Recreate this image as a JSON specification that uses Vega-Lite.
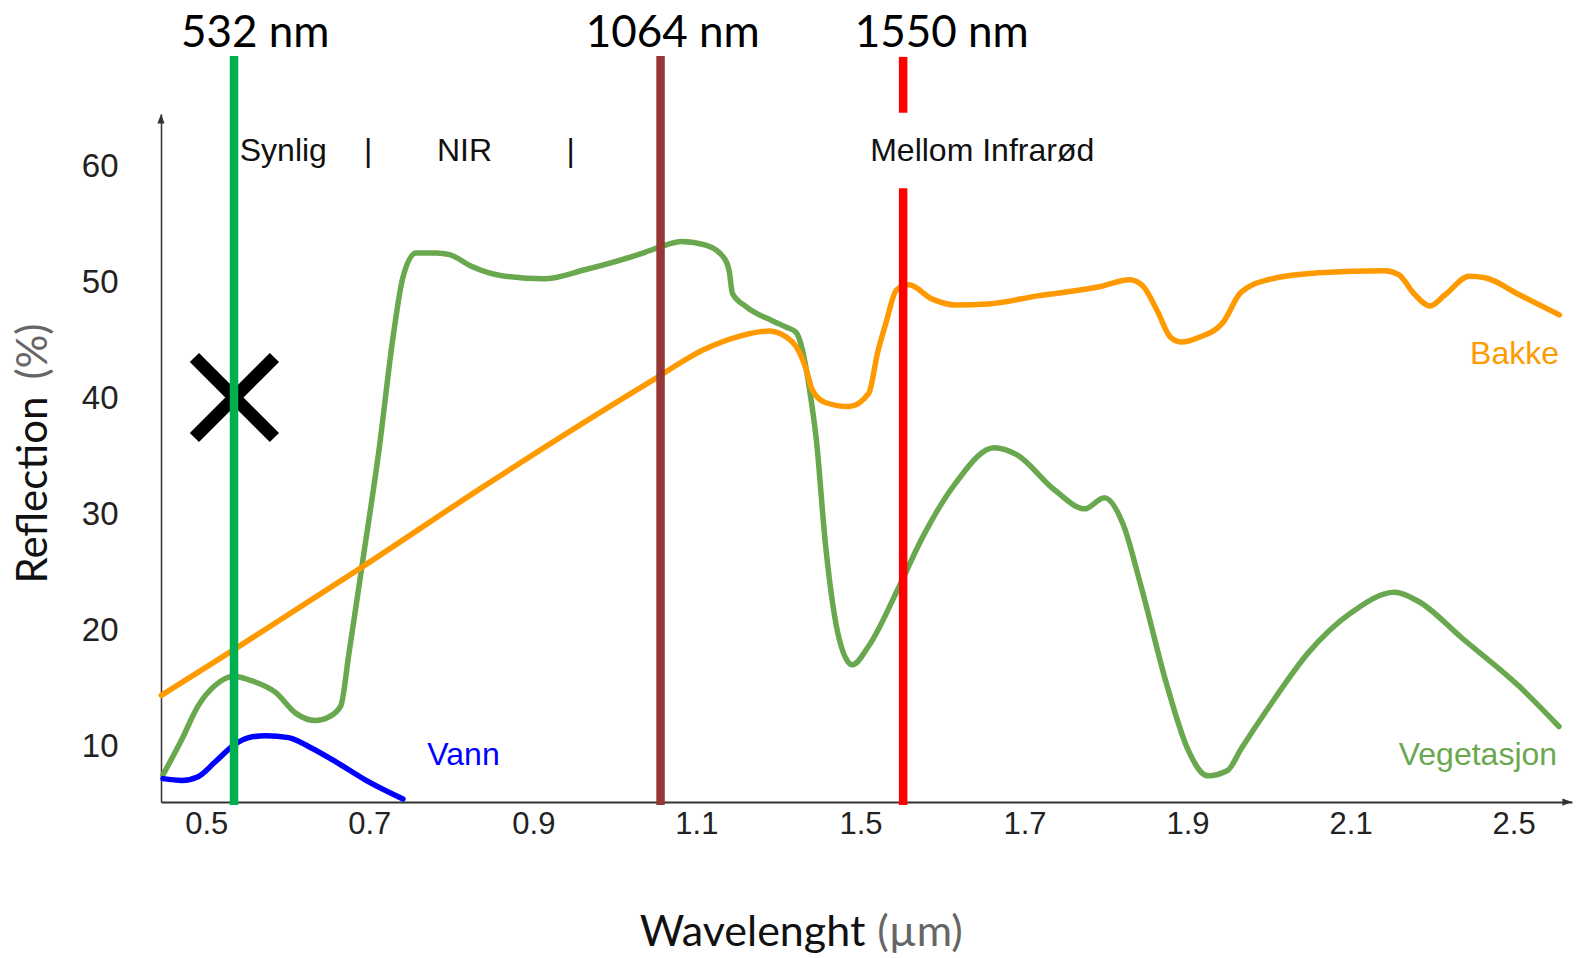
{
  "$schema": "https://vega.github.io/schema/vega-lite/v6.json",
  "autosize": "none",
  "width": 1411,
  "height": 688.1,
  "padding": {"left": 161, "top": 114, "right": 6, "bottom": 155.9},
  "background": "#ffffff",
  "config": {"view": {"stroke": null}},
  "datasets": {
    "curves": [
      {"series": "Vegetasjon", "x": 0.447, "y": 7.57},
      {"series": "Vegetasjon", "x": 0.470, "y": 10.62},
      {"series": "Vegetasjon", "x": 0.490, "y": 13.52},
      {"series": "Vegetasjon", "x": 0.511, "y": 15.29},
      {"series": "Vegetasjon", "x": 0.534, "y": 16.07},
      {"series": "Vegetasjon", "x": 0.552, "y": 15.76},
      {"series": "Vegetasjon", "x": 0.585, "y": 14.68},
      {"series": "Vegetasjon", "x": 0.610, "y": 12.87},
      {"series": "Vegetasjon", "x": 0.634, "y": 12.25},
      {"series": "Vegetasjon", "x": 0.650, "y": 12.55},
      {"series": "Vegetasjon", "x": 0.665, "y": 13.52},
      {"series": "Vegetasjon", "x": 0.675, "y": 18.01},
      {"series": "Vegetasjon", "x": 0.692, "y": 26.03},
      {"series": "Vegetasjon", "x": 0.712, "y": 35.65},
      {"series": "Vegetasjon", "x": 0.729, "y": 45.29},
      {"series": "Vegetasjon", "x": 0.741, "y": 50.42},
      {"series": "Vegetasjon", "x": 0.757, "y": 52.51},
      {"series": "Vegetasjon", "x": 0.782, "y": 52.51},
      {"series": "Vegetasjon", "x": 0.798, "y": 52.37},
      {"series": "Vegetasjon", "x": 0.823, "y": 51.42},
      {"series": "Vegetasjon", "x": 0.860, "y": 50.58},
      {"series": "Vegetasjon", "x": 0.913, "y": 50.29},
      {"series": "Vegetasjon", "x": 0.963, "y": 51.07},
      {"series": "Vegetasjon", "x": 1.036, "y": 52.55},
      {"series": "Vegetasjon", "x": 1.055, "y": 53.02},
      {"series": "Vegetasjon", "x": 1.082, "y": 53.50},
      {"series": "Vegetasjon", "x": 1.123, "y": 53.18},
      {"series": "Vegetasjon", "x": 1.168, "y": 52.06},
      {"series": "Vegetasjon", "x": 1.180, "y": 50.94},
      {"series": "Vegetasjon", "x": 1.188, "y": 49.02},
      {"series": "Vegetasjon", "x": 1.221, "y": 47.90},
      {"series": "Vegetasjon", "x": 1.286, "y": 46.66},
      {"series": "Vegetasjon", "x": 1.318, "y": 46.14},
      {"series": "Vegetasjon", "x": 1.343, "y": 45.67},
      {"series": "Vegetasjon", "x": 1.358, "y": 44.23},
      {"series": "Vegetasjon", "x": 1.376, "y": 40.71},
      {"series": "Vegetasjon", "x": 1.392, "y": 36.55},
      {"series": "Vegetasjon", "x": 1.415, "y": 27.28},
      {"series": "Vegetasjon", "x": 1.448, "y": 19.29},
      {"series": "Vegetasjon", "x": 1.480, "y": 17.05},
      {"series": "Vegetasjon", "x": 1.510, "y": 18.67},
      {"series": "Vegetasjon", "x": 1.547, "y": 23.78},
      {"series": "Vegetasjon", "x": 1.575, "y": 27.94},
      {"series": "Vegetasjon", "x": 1.616, "y": 32.70},
      {"series": "Vegetasjon", "x": 1.663, "y": 35.75},
      {"series": "Vegetasjon", "x": 1.691, "y": 35.13},
      {"series": "Vegetasjon", "x": 1.737, "y": 32.10},
      {"series": "Vegetasjon", "x": 1.774, "y": 30.48},
      {"series": "Vegetasjon", "x": 1.798, "y": 31.44},
      {"series": "Vegetasjon", "x": 1.821, "y": 29.15},
      {"series": "Vegetasjon", "x": 1.842, "y": 24.08},
      {"series": "Vegetasjon", "x": 1.875, "y": 15.23},
      {"series": "Vegetasjon", "x": 1.900, "y": 9.84},
      {"series": "Vegetasjon", "x": 1.925, "y": 7.49},
      {"series": "Vegetasjon", "x": 1.949, "y": 7.95},
      {"series": "Vegetasjon", "x": 1.966, "y": 9.84},
      {"series": "Vegetasjon", "x": 1.999, "y": 13.33},
      {"series": "Vegetasjon", "x": 2.048, "y": 18.08},
      {"series": "Vegetasjon", "x": 2.102, "y": 21.55},
      {"series": "Vegetasjon", "x": 2.208, "y": 23.29},
      {"series": "Vegetasjon", "x": 2.267, "y": 22.50},
      {"series": "Vegetasjon", "x": 2.373, "y": 19.36},
      {"series": "Vegetasjon", "x": 2.513, "y": 15.22},
      {"series": "Vegetasjon", "x": 2.611, "y": 11.74},
      {"series": "Bakke", "x": 0.445, "y": 14.42},
      {"series": "Bakke", "x": 0.533, "y": 18.32},
      {"series": "Bakke", "x": 0.692, "y": 25.51},
      {"series": "Bakke", "x": 0.840, "y": 32.44},
      {"series": "Bakke", "x": 1.044, "y": 41.46},
      {"series": "Bakke", "x": 1.120, "y": 44.23},
      {"series": "Bakke", "x": 1.206, "y": 45.36},
      {"series": "Bakke", "x": 1.277, "y": 45.79},
      {"series": "Bakke", "x": 1.334, "y": 44.84},
      {"series": "Bakke", "x": 1.366, "y": 42.67},
      {"series": "Bakke", "x": 1.383, "y": 40.68},
      {"series": "Bakke", "x": 1.414, "y": 39.64},
      {"series": "Bakke", "x": 1.472, "y": 39.29},
      {"series": "Bakke", "x": 1.510, "y": 40.42},
      {"series": "Bakke", "x": 1.521, "y": 43.97},
      {"series": "Bakke", "x": 1.531, "y": 46.48},
      {"series": "Bakke", "x": 1.544, "y": 49.34},
      {"series": "Bakke", "x": 1.559, "y": 49.77},
      {"series": "Bakke", "x": 1.587, "y": 48.56},
      {"series": "Bakke", "x": 1.616, "y": 48.04},
      {"series": "Bakke", "x": 1.656, "y": 48.13},
      {"series": "Bakke", "x": 1.716, "y": 48.82},
      {"series": "Bakke", "x": 1.792, "y": 49.60},
      {"series": "Bakke", "x": 1.829, "y": 50.21},
      {"series": "Bakke", "x": 1.845, "y": 49.69},
      {"series": "Bakke", "x": 1.863, "y": 47.52},
      {"series": "Bakke", "x": 1.879, "y": 45.27},
      {"series": "Bakke", "x": 1.893, "y": 44.84},
      {"series": "Bakke", "x": 1.915, "y": 45.27},
      {"series": "Bakke", "x": 1.944, "y": 46.57},
      {"series": "Bakke", "x": 1.965, "y": 49.08},
      {"series": "Bakke", "x": 1.999, "y": 50.21},
      {"series": "Bakke", "x": 2.061, "y": 50.81},
      {"series": "Bakke", "x": 2.184, "y": 50.99},
      {"series": "Bakke", "x": 2.218, "y": 50.64},
      {"series": "Bakke", "x": 2.258, "y": 48.91},
      {"series": "Bakke", "x": 2.295, "y": 47.95},
      {"series": "Bakke", "x": 2.332, "y": 48.91},
      {"series": "Bakke", "x": 2.391, "y": 50.51},
      {"series": "Bakke", "x": 2.430, "y": 50.38},
      {"series": "Bakke", "x": 2.514, "y": 48.91},
      {"series": "Bakke", "x": 2.612, "y": 47.18},
      {"series": "Vann", "x": 0.447, "y": 7.25},
      {"series": "Vann", "x": 0.470, "y": 7.10},
      {"series": "Vann", "x": 0.490, "y": 7.42},
      {"series": "Vann", "x": 0.511, "y": 8.70},
      {"series": "Vann", "x": 0.534, "y": 10.15},
      {"series": "Vann", "x": 0.552, "y": 10.78},
      {"series": "Vann", "x": 0.573, "y": 10.95},
      {"series": "Vann", "x": 0.601, "y": 10.78},
      {"series": "Vann", "x": 0.626, "y": 10.00},
      {"series": "Vann", "x": 0.659, "y": 8.70},
      {"series": "Vann", "x": 0.696, "y": 7.10},
      {"series": "Vann", "x": 0.741, "y": 5.50}
    ],
    "rules": [
      {"series": "532 nm", "x": 0.534, "y": 69.47, "y2": 4.98},
      {"series": "1064 nm", "x": 1.056, "y": 69.47, "y2": 4.98},
      {"series": "1550 nm", "x": 1.552, "y": 69.4, "y2": 64.59},
      {"series": "1550 nm", "x": 1.552, "y": 58.08, "y2": 4.98}
    ],
    "laserLabels": [
      {"label": "532 nm", "x": 0.56, "y": 70.25},
      {"label": "1064 nm", "x": 1.071, "y": 70.25},
      {"label": "1550 nm", "x": 1.599, "y": 70.25}
    ],
    "regions": [
      {"label": "Synlig", "x": 0.5945, "y": 60.43},
      {"label": "|", "x": 0.6985, "y": 60.43},
      {"label": "NIR", "x": 0.816, "y": 60.43},
      {"label": "|", "x": 0.9456, "y": 60.43},
      {"label": "Mellom Infrarød", "x": 1.6484, "y": 60.43}
    ],
    "seriesLabels": [
      {"series": "Bakke", "label": "Bakke", "x": 2.5024, "y": 42.93},
      {"series": "Vegetasjon", "label": "Vegetasjon", "x": 2.4124, "y": 8.43},
      {"series": "Vann", "label": "Vann", "x": 0.8148, "y": 8.43}
    ]
  },
  "encoding": {
    "x": {
      "field": "x",
      "type": "quantitative",
      "scale": {
        "domain": [0.4446, 0.5, 0.7, 0.9, 1.1, 1.5, 1.7, 1.9, 2.1, 2.5, 2.643],
        "range": [0, 45.3, 208.3, 372.4, 535.4, 699.5, 863.5, 1026.5, 1189.6, 1352.6, 1411],
        "nice": false,
        "zero": false
      },
      "axis": {
        "title": null,
        "values": [0.5, 0.7, 0.9, 1.1, 1.5, 1.7, 1.9, 2.1, 2.5],
        "format": ".1f",
        "ticks": false,
        "grid": false,
        "domain": true,
        "domainColor": "#333333",
        "domainWidth": 2,
        "labelFont": "Liberation Sans",
        "labelFontSize": 31,
        "labelColor": "#222222",
        "labelPadding": 7,
        "labelOverlap": false,
        "labelFlush": false,
        "labelBound": false
      }
    },
    "y": {
      "field": "y",
      "type": "quantitative",
      "scale": {"domain": [5.23, 64.48], "nice": false, "zero": false},
      "axis": {
        "title": null,
        "values": [10, 20, 30, 40, 50, 60],
        "format": "d",
        "ticks": false,
        "grid": false,
        "domain": true,
        "domainColor": "#333333",
        "domainWidth": 1.5,
        "labelFont": "Liberation Sans",
        "labelFontSize": 33,
        "labelColor": "#222222",
        "labelPadding": 43,
        "labelOverlap": false,
        "labelFlush": false,
        "labelBound": false
      }
    }
  },
  "layer": [
    {
      "data": {"name": "curves"},
      "mark": {"type": "line", "interpolate": "monotone", "strokeWidth": 5.5, "strokeCap": "round", "clip": false},
      "encoding": {
        "color": {
          "field": "series",
          "type": "nominal",
          "scale": {
            "domain": ["Vegetasjon", "Bakke", "Vann", "532 nm", "1064 nm", "1550 nm"],
            "range": ["#6aa84f", "#ff9900", "#0000ff", "#00b050", "#953735", "#ff0000"]
          },
          "legend": null
        }
      }
    },
    {
      "data": {"values": [{"x": 0.5345, "y": 40.07}]},
      "mark": {
        "type": "point",
        "shape": "M-1,-1L1,1M-1,1L1,-1",
        "filled": false,
        "stroke": "#000000",
        "strokeWidth": 13,
        "strokeCap": "butt",
        "size": 6400,
        "opacity": 1
      }
    },
    {
      "data": {"name": "rules"},
      "mark": {"type": "rule", "strokeWidth": 8.5, "strokeCap": "butt"},
      "encoding": {
        "y2": {"field": "y2"},
        "color": {"field": "series", "type": "nominal", "legend": null}
      }
    },
    {
      "data": {"values": [{"x": 0.4446, "y": 64.48}]},
      "mark": {"type": "point", "shape": "M0,0L-0.45,1.2L0.45,1.2Z", "filled": true, "color": "#333333", "size": 256, "opacity": 1}
    },
    {
      "data": {"values": [{"x": 2.643, "y": 5.23}]},
      "mark": {"type": "point", "shape": "M0,0L-1.2,-0.45L-1.2,0.45Z", "filled": true, "color": "#333333", "size": 256, "opacity": 1}
    },
    {
      "data": {"name": "laserLabels"},
      "mark": {"type": "text", "font": "Lato", "fontSize": 44, "color": "#000000", "align": "center", "baseline": "alphabetic"},
      "encoding": {"text": {"field": "label"}}
    },
    {
      "data": {"name": "regions"},
      "mark": {"type": "text", "font": "Liberation Sans", "fontSize": 32, "color": "#111111", "align": "center", "baseline": "alphabetic"},
      "encoding": {"text": {"field": "label"}}
    },
    {
      "data": {"name": "seriesLabels"},
      "mark": {"type": "text", "font": "Liberation Sans", "fontSize": 32, "align": "center", "baseline": "alphabetic"},
      "encoding": {
        "text": {"field": "label"},
        "color": {"field": "series", "type": "nominal", "legend": null}
      }
    },
    {
      "data": {"values": [{"label": "Reflection", "x": 0.3052, "y": 32.1}]},
      "mark": {"type": "text", "font": "Lato", "fontSize": 42, "color": "#111111", "align": "center", "baseline": "alphabetic", "angle": 270},
      "encoding": {"text": {"field": "label"}}
    },
    {
      "data": {"values": [{"label": "(%)", "x": 0.3052, "y": 44.03}]},
      "mark": {"type": "text", "font": "Lato", "fontSize": 42, "color": "#666666", "align": "center", "baseline": "alphabetic", "angle": 270},
      "encoding": {"text": {"field": "label"}}
    },
    {
      "data": {"values": [{"label": "Wavelenght", "x": 1.2368, "y": -7.16}]},
      "mark": {"type": "text", "font": "Lato", "fontSize": 43, "color": "#111111", "align": "center", "baseline": "alphabetic"},
      "encoding": {"text": {"field": "label"}}
    },
    {
      "data": {"values": [{"label": "(µm)", "x": 1.5726, "y": -7.16}]},
      "mark": {"type": "text", "font": "Lato", "fontSize": 43, "color": "#666666", "align": "center", "baseline": "alphabetic"},
      "encoding": {"text": {"field": "label"}}
    }
  ]
}
